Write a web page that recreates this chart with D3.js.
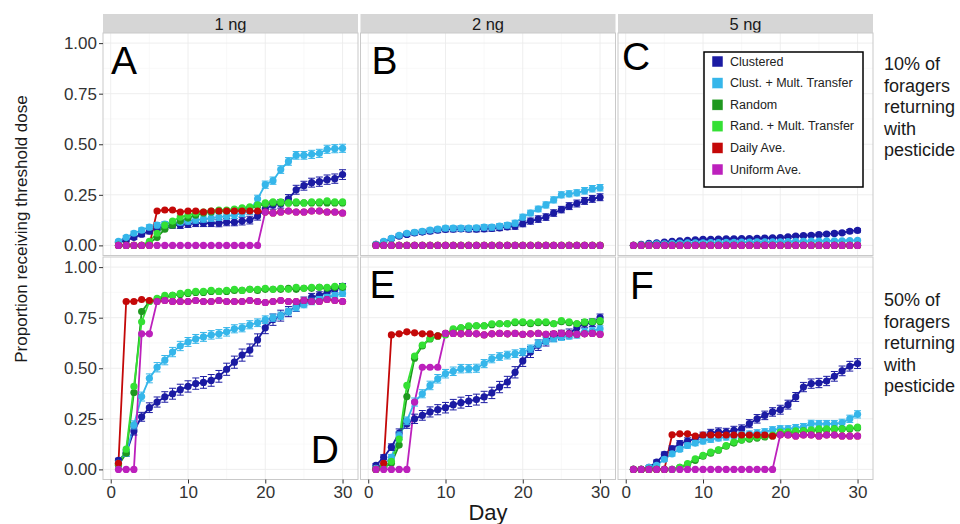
<!DOCTYPE html>
<html>
<head>
<meta charset="utf-8">
<script src="https://cdn.jsdelivr.net/npm/d3@7"></script>
<style>
  html, body { margin: 0; padding: 0; background: #ffffff; }
  svg { display: block; font-family: "Liberation Sans", Arial, sans-serif; }
</style>
</head>
<body>
<svg id="chart" width="960" height="524"></svg>
<script>
// ---- data -------------------------------------------------------------
const days = [1,2,3,4,5,6,7,8,9,10,11,12,13,14,15,16,17,18,19,20,21,22,23,24,25,26,27,28,29,30];
const doses = ["1 ng", "2 ng", "5 ng"];
const rowLabels = [
  ["10% of", "foragers", "returning", "with", "pesticide"],
  ["50% of", "foragers", "returning", "with", "pesticide"]
];
const panelLetters = ["A", "B", "C", "D", "E", "F"];
const seriesNames = ["Clustered", "Clust. + Mult. Transfer", "Random", "Rand. + Mult. Transfer", "Daily Ave.", "Uniform Ave."];
const seriesColors = ["#1b1ba3", "#36b6ea", "#1f981f", "#34e034", "#c40808", "#bc20bc"];
const yTicks = [0, 0.25, 0.5, 0.75, 1];
const xTicks = [0, 10, 20, 30];

// Panel A: 1 ng, 10% of foragers
const aClustered = [0.015,0.025,0.04,0.055,0.07,0.085,0.095,0.10,0.10,0.105,0.11,0.11,0.11,0.11,0.115,0.115,0.12,0.125,0.145,0.18,0.20,0.205,0.23,0.275,0.295,0.31,0.315,0.325,0.33,0.35];
const aClustMult = [0.02,0.04,0.06,0.075,0.09,0.10,0.105,0.11,0.115,0.12,0.125,0.13,0.135,0.14,0.145,0.15,0.16,0.17,0.23,0.30,0.32,0.375,0.415,0.445,0.445,0.45,0.455,0.475,0.478,0.48];
const aRandom = [0,0,0,0,0.01,0.04,0.08,0.10,0.12,0.135,0.15,0.16,0.165,0.17,0.17,0.175,0.18,0.185,0.195,0.205,0.21,0.21,0.21,0.21,0.21,0.21,0.21,0.21,0.21,0.21];
const aRandMult = [0,0,0,0,0.02,0.06,0.10,0.12,0.14,0.15,0.16,0.165,0.17,0.175,0.175,0.18,0.185,0.19,0.20,0.21,0.215,0.215,0.21,0.215,0.21,0.215,0.215,0.22,0.215,0.215];
const aDaily = [0,0,0,0,0,0.17,0.175,0.175,0.165,0.17,0.17,0.165,0.17,0.17,0.17,0.17,0.17,0.17,0.17,0.165,0.16,0.165,0.17,0.165,0.165,0.17,0.17,0.165,0.165,0.16];
const aUniform = [0,0,0,0,0,0,0,0,0,0,0,0,0,0,0,0,0,0,0,0.165,0.16,0.165,0.17,0.165,0.165,0.17,0.17,0.165,0.165,0.16];
const aClusteredErr = [0.005,0.008,0.01,0.012,0.013,0.014,0.015,0.015,0.016,0.016,0.017,0.017,0.017,0.018,0.018,0.018,0.019,0.019,0.02,0.02,0.021,0.021,0.021,0.022,0.022,0.022,0.023,0.023,0.023,0.024];
const aClustMultErr = [0.006,0.008,0.01,0.011,0.012,0.013,0.013,0.014,0.014,0.015,0.015,0.015,0.016,0.016,0.016,0.017,0.017,0.017,0.018,0.018,0.018,0.019,0.019,0.019,0.019,0.02,0.02,0.02,0.02,0.02];

// Panel B: 2 ng, 10% of foragers
const bClustered = [0.005,0.018,0.033,0.046,0.054,0.062,0.066,0.07,0.075,0.079,0.08,0.082,0.08,0.08,0.082,0.084,0.087,0.092,0.095,0.107,0.12,0.13,0.14,0.16,0.177,0.194,0.207,0.22,0.23,0.238];
const bClustMult = [0.005,0.02,0.035,0.05,0.06,0.065,0.07,0.075,0.08,0.085,0.085,0.085,0.085,0.087,0.09,0.09,0.095,0.10,0.11,0.14,0.16,0.18,0.20,0.225,0.25,0.255,0.26,0.27,0.28,0.285];
const bRandom = [0,0,0,0,0,0,0,0,0,0,0,0,0,0,0,0,0,0,0,0,0,0,0,0,0,0,0,0,0,0];
const bRandMult = [0,0,0,0,0,0,0,0,0,0,0,0,0,0,0,0,0,0,0,0,0,0,0,0,0,0,0,0,0,0];
const bDaily = [0,0,0,0,0,0,0,0,0,0,0,0,0,0,0,0,0,0,0,0,0,0,0,0,0,0,0,0,0,0];
const bUniform = [0,0,0,0,0,0,0,0,0,0,0,0,0,0,0,0,0,0,0,0,0,0,0,0,0,0,0,0,0,0];
const bClusteredErr = [0.004,0.006,0.008,0.009,0.01,0.011,0.011,0.012,0.012,0.012,0.013,0.013,0.013,0.013,0.014,0.014,0.014,0.014,0.015,0.015,0.015,0.016,0.016,0.016,0.016,0.017,0.017,0.017,0.017,0.017];
const bClustMultErr = [0.004,0.006,0.007,0.008,0.009,0.01,0.01,0.011,0.011,0.011,0.012,0.012,0.012,0.012,0.013,0.013,0.013,0.013,0.014,0.014,0.014,0.014,0.015,0.015,0.015,0.015,0.015,0.016,0.016,0.016];

// Panel C: 5 ng, 10% of foragers
const cClustered = [0,0.005,0.01,0.013,0.016,0.02,0.022,0.025,0.027,0.03,0.03,0.031,0.032,0.032,0.033,0.034,0.035,0.036,0.037,0.038,0.042,0.046,0.048,0.05,0.053,0.056,0.059,0.062,0.07,0.074];
const cClustMult = [0,0.003,0.005,0.007,0.008,0.01,0.011,0.012,0.012,0.013,0.014,0.014,0.015,0.015,0.016,0.016,0.017,0.017,0.018,0.018,0.019,0.02,0.02,0.021,0.021,0.022,0.022,0.023,0.024,0.025];
const cRandom = [0,0,0,0,0,0,0,0,0,0,0,0,0,0,0,0,0,0,0,0,0,0,0,0,0,0,0,0,0,0];
const cRandMult = [0,0,0,0,0,0,0,0,0,0,0,0,0,0,0,0,0,0,0,0,0,0,0,0,0,0,0,0,0,0];
const cDaily = [0,0,0,0,0,0,0,0,0,0,0,0,0,0,0,0,0,0,0,0,0,0,0,0,0,0,0,0,0,0];
const cUniform = [0,0,0,0,0,0,0,0,0,0,0,0,0,0,0,0,0,0,0,0,0,0,0,0,0,0,0,0,0,0];
const cClusteredErr = [0.002,0.003,0.003,0.004,0.004,0.004,0.005,0.005,0.005,0.005,0.005,0.006,0.006,0.006,0.006,0.006,0.006,0.006,0.007,0.007,0.007,0.007,0.007,0.007,0.008,0.008,0.008,0.008,0.008,0.008];
const cClustMultErr = [0.001,0.002,0.002,0.002,0.003,0.003,0.003,0.003,0.003,0.003,0.004,0.004,0.004,0.004,0.004,0.004,0.004,0.004,0.004,0.005,0.005,0.005,0.005,0.005,0.005,0.005,0.005,0.005,0.005,0.005];

// Panel D: 1 ng, 50% of foragers
const dClustered = [0.045,0.08,0.19,0.26,0.305,0.333,0.358,0.374,0.394,0.41,0.424,0.43,0.44,0.46,0.495,0.53,0.565,0.59,0.64,0.70,0.74,0.76,0.78,0.805,0.83,0.85,0.86,0.875,0.89,0.905];
const dClustMult = [0.03,0.08,0.22,0.36,0.45,0.505,0.54,0.58,0.61,0.63,0.645,0.655,0.665,0.67,0.68,0.695,0.70,0.715,0.725,0.74,0.75,0.76,0.78,0.80,0.815,0.83,0.84,0.85,0.86,0.87];
const dRandom = [0.02,0.08,0.38,0.78,0.83,0.84,0.85,0.86,0.865,0.87,0.875,0.875,0.88,0.88,0.88,0.885,0.885,0.89,0.885,0.89,0.89,0.89,0.895,0.89,0.895,0.895,0.9,0.895,0.9,0.9];
const dRandMult = [0.025,0.10,0.41,0.73,0.83,0.845,0.86,0.86,0.87,0.875,0.88,0.88,0.885,0.88,0.885,0.89,0.885,0.89,0.89,0.895,0.89,0.895,0.89,0.9,0.895,0.9,0.9,0.9,0.905,0.905];
const dDaily = [0.03,0.83,0.83,0.84,0.835,0.83,0.835,0.83,0.83,0.83,0.835,0.83,0.83,0.835,0.83,0.83,0.83,0.835,0.83,0.825,0.83,0.835,0.83,0.83,0.835,0.83,0.83,0.84,0.835,0.83];
const dUniform = [0,0,0,0.67,0.67,0.83,0.835,0.83,0.83,0.83,0.835,0.83,0.83,0.835,0.83,0.83,0.83,0.835,0.83,0.825,0.83,0.835,0.83,0.83,0.835,0.83,0.83,0.84,0.835,0.83];
const dClusteredErr = [0.01,0.015,0.02,0.022,0.024,0.025,0.026,0.027,0.027,0.028,0.028,0.029,0.029,0.029,0.03,0.03,0.03,0.03,0.03,0.029,0.028,0.027,0.025,0.024,0.022,0.02,0.018,0.017,0.015,0.014];
const dClustMultErr = [0.01,0.015,0.02,0.022,0.022,0.023,0.023,0.023,0.023,0.022,0.022,0.022,0.021,0.021,0.021,0.02,0.02,0.02,0.019,0.019,0.018,0.018,0.017,0.017,0.016,0.016,0.015,0.015,0.014,0.014];

// Panel E: 2 ng, 50% of foragers
const eClustered = [0.02,0.06,0.11,0.18,0.225,0.25,0.267,0.284,0.295,0.305,0.32,0.33,0.338,0.345,0.358,0.378,0.407,0.432,0.48,0.536,0.58,0.614,0.635,0.658,0.665,0.672,0.70,0.72,0.725,0.75];
const eClustMult = [0.005,0.025,0.06,0.167,0.24,0.333,0.374,0.415,0.448,0.473,0.485,0.498,0.498,0.50,0.523,0.547,0.558,0.565,0.572,0.58,0.597,0.622,0.635,0.647,0.655,0.66,0.665,0.68,0.685,0.695];
const eRandom = [0,0.01,0.03,0.12,0.36,0.55,0.61,0.645,0.66,0.67,0.69,0.70,0.705,0.71,0.71,0.715,0.72,0.72,0.725,0.725,0.72,0.725,0.725,0.72,0.73,0.725,0.72,0.725,0.73,0.73];
const eRandMult = [0,0.01,0.04,0.15,0.415,0.56,0.615,0.647,0.658,0.665,0.695,0.70,0.71,0.71,0.71,0.72,0.72,0.72,0.73,0.73,0.725,0.73,0.73,0.72,0.735,0.73,0.72,0.73,0.73,0.735];
const eDaily = [0,0.03,0.665,0.67,0.68,0.675,0.67,0.67,0.66,0.672,0.672,0.67,0.672,0.67,0.665,0.67,0.672,0.67,0.672,0.668,0.67,0.672,0.668,0.67,0.672,0.67,0.668,0.67,0.672,0.668];
const eUniform = [0,0,0,0,0,0.333,0.505,0.505,0.505,0.672,0.672,0.67,0.672,0.67,0.665,0.67,0.672,0.67,0.672,0.668,0.67,0.672,0.668,0.67,0.672,0.67,0.668,0.67,0.672,0.668];
const eClusteredErr = [0.008,0.012,0.016,0.02,0.022,0.023,0.024,0.025,0.025,0.026,0.026,0.027,0.027,0.027,0.028,0.028,0.028,0.028,0.028,0.027,0.027,0.026,0.025,0.024,0.023,0.022,0.021,0.02,0.019,0.018];
const eClustMultErr = [0.006,0.01,0.014,0.018,0.019,0.02,0.02,0.021,0.021,0.021,0.021,0.021,0.02,0.02,0.02,0.02,0.019,0.019,0.019,0.018,0.018,0.018,0.017,0.017,0.017,0.016,0.016,0.016,0.015,0.015];

// Panel F: 5 ng, 50% of foragers
const fClustered = [0,0,0.01,0.036,0.074,0.102,0.127,0.14,0.151,0.166,0.18,0.186,0.184,0.193,0.20,0.226,0.25,0.267,0.284,0.295,0.32,0.358,0.407,0.424,0.427,0.437,0.46,0.487,0.51,0.523];
const fClustMult = [0,0,0.01,0.02,0.05,0.077,0.10,0.118,0.13,0.14,0.148,0.155,0.16,0.165,0.171,0.175,0.18,0.185,0.195,0.2,0.2,0.205,0.21,0.226,0.225,0.225,0.225,0.23,0.25,0.272];
const fRandom = [0,0,0,0,0,0,0.01,0.025,0.045,0.065,0.08,0.095,0.115,0.13,0.145,0.15,0.155,0.16,0.165,0.175,0.18,0.185,0.19,0.19,0.195,0.195,0.2,0.2,0.2,0.205];
const fRandMult = [0,0,0,0,0,0,0.01,0.028,0.052,0.069,0.085,0.097,0.118,0.135,0.146,0.155,0.16,0.165,0.17,0.184,0.185,0.19,0.19,0.195,0.2,0.2,0.2,0.2,0.205,0.209];
const fDaily = [0,0,0,0,0,0.171,0.176,0.176,0.165,0.17,0.17,0.17,0.17,0.17,0.17,0.17,0.17,0.17,0.165,0.171,0.17,0.165,0.17,0.17,0.165,0.17,0.17,0.165,0.165,0.165];
const fUniform = [0,0,0,0,0,0,0,0,0,0,0,0,0,0,0,0,0,0,0,0.171,0.17,0.165,0.17,0.17,0.165,0.17,0.17,0.165,0.165,0.165];
const fClusteredErr = [0.002,0.004,0.006,0.01,0.012,0.014,0.015,0.016,0.017,0.018,0.018,0.019,0.019,0.02,0.02,0.02,0.021,0.021,0.021,0.022,0.022,0.022,0.023,0.023,0.023,0.023,0.024,0.024,0.024,0.024];
const fClustMultErr = [0.002,0.003,0.005,0.008,0.01,0.011,0.012,0.013,0.013,0.014,0.014,0.014,0.015,0.015,0.015,0.015,0.016,0.016,0.016,0.016,0.016,0.017,0.017,0.017,0.017,0.017,0.017,0.018,0.018,0.018];

// One record per facet, in reading order (row by row)
const panels = [
  { letter: "A", col: 0, row: 0, series: [aClustered, aClustMult, aRandom, aRandMult, aDaily, aUniform], err: [aClusteredErr, aClustMultErr] },
  { letter: "B", col: 1, row: 0, series: [bClustered, bClustMult, bRandom, bRandMult, bDaily, bUniform], err: [bClusteredErr, bClustMultErr] },
  { letter: "C", col: 2, row: 0, series: [cClustered, cClustMult, cRandom, cRandMult, cDaily, cUniform], err: [cClusteredErr, cClustMultErr] },
  { letter: "D", col: 0, row: 1, series: [dClustered, dClustMult, dRandom, dRandMult, dDaily, dUniform], err: [dClusteredErr, dClustMultErr] },
  { letter: "E", col: 1, row: 1, series: [eClustered, eClustMult, eRandom, eRandMult, eDaily, eUniform], err: [eClusteredErr, eClustMultErr] },
  { letter: "F", col: 2, row: 1, series: [fClustered, fClustMult, fRandom, fRandMult, fDaily, fUniform], err: [fClusteredErr, fClustMultErr] }
];

// ---- layout -----------------------------------------------------------
const svg = d3.select("#chart");
const panelLeft = 103, panelW = 255, colGap = 2.5;
const stripTop = 14, stripH = 19;
const rowTops = [33, 257], panelH = 222.5;
const textDark = "#1a1a1a", tickText = "#333333";

function panelScales(p) {
  const x0 = panelLeft + p.col * (panelW + colGap);
  const y0 = rowTops[p.row];
  const x = d3.scaleLinear().domain([-1, 32]).range([x0, x0 + panelW]);
  const y = d3.scaleLinear().domain([-0.05, 1.05]).range([y0 + panelH, y0]);
  return { x, y, x0, y0 };
}

// strips over the top row
doses.forEach((dose, c) => {
  const x0 = panelLeft + c * (panelW + colGap);
  svg.append("rect").attr("x", x0).attr("y", stripTop).attr("width", panelW).attr("height", stripH)
    .attr("fill", "#d6d6d6");
  svg.append("text").attr("x", x0 + panelW / 2).attr("y", stripTop + stripH / 2 + 6)
    .attr("text-anchor", "middle").attr("font-size", 16.5).attr("fill", textDark).text(dose);
});

panels.forEach(p => {
  const { x, y, x0, y0 } = panelScales(p);
  const g = svg.append("g");

  g.append("rect").attr("x", x0).attr("y", y0).attr("width", panelW).attr("height", panelH).attr("fill", "#ffffff");

  // grid
  const minorX = [5, 15, 25], minorY = [0.125, 0.375, 0.625, 0.875];
  g.selectAll(".gmx").data(minorX).join("line")
    .attr("x1", d => x(d)).attr("x2", d => x(d)).attr("y1", y0).attr("y2", y0 + panelH)
    .attr("stroke", "#f5f5f5").attr("stroke-width", 0.6);
  g.selectAll(".gmy").data(minorY).join("line")
    .attr("y1", d => y(d)).attr("y2", d => y(d)).attr("x1", x0).attr("x2", x0 + panelW)
    .attr("stroke", "#f5f5f5").attr("stroke-width", 0.6);
  g.selectAll(".gx").data(xTicks).join("line")
    .attr("x1", d => x(d)).attr("x2", d => x(d)).attr("y1", y0).attr("y2", y0 + panelH)
    .attr("stroke", "#ececec").attr("stroke-width", 0.9);
  g.selectAll(".gy").data(yTicks).join("line")
    .attr("y1", d => y(d)).attr("y2", d => y(d)).attr("x1", x0).attr("x2", x0 + panelW)
    .attr("stroke", "#ececec").attr("stroke-width", 0.9);

  const line = d3.line().x((d, i) => x(days[i])).y(d => y(d));

  // lines
  p.series.forEach((vals, s) => {
    g.append("path").datum(vals).attr("d", line).attr("fill", "none")
      .attr("stroke", seriesColors[s]).attr("stroke-width", 1.8).attr("stroke-linejoin", "round");
  });

  // points and error bars, series by series
  p.series.forEach((vals, s) => {
    g.selectAll(null).data(vals).join("circle")
      .attr("cx", (d, i) => x(days[i])).attr("cy", d => y(d)).attr("r", 3.6)
      .attr("fill", seriesColors[s]);
    if (s < p.err.length) {
      const e = p.err[s];
      const eb = g.append("g").attr("stroke", seriesColors[s]).attr("stroke-width", 1).attr("fill", "none");
      vals.forEach((v, i) => {
        const xl = x(days[i] - 0.45), xr = x(days[i] + 0.45), xc = x(days[i]);
        const yt = y(v + e[i]), yb = y(v - e[i]);
        eb.append("line").attr("x1", xc).attr("x2", xc).attr("y1", yt).attr("y2", yb);
        eb.append("line").attr("x1", xl).attr("x2", xr).attr("y1", yt).attr("y2", yt);
        eb.append("line").attr("x1", xl).attr("x2", xr).attr("y1", yb).attr("y2", yb);
      });
    }
  });

  // border
  g.append("rect").attr("x", x0).attr("y", y0).attr("width", panelW).attr("height", panelH)
    .attr("fill", "none").attr("stroke", "#c9c9c9").attr("stroke-width", 1);

  // panel letter
  const letterPos = {
    A: [x0 + 8, y0 + 41, "start"], B: [x0 + 11, y0 + 41, "start"], C: [x0 + 4, y0 + 37, "start"],
    D: [x0 + panelW - 19, y0 + 206, "end"], E: [x0 + 9, y0 + 41, "start"], F: [x0 + 12, y0 + 42, "start"]
  }[p.letter];
  g.append("text").attr("x", letterPos[0]).attr("y", letterPos[1]).attr("text-anchor", letterPos[2])
    .attr("font-size", 39).attr("fill", "#000").text(p.letter);

  // axes
  if (p.col === 0) {
    const ax = g.append("g").attr("transform", `translate(${x0},0)`)
      .call(d3.axisLeft(y).tickValues(yTicks).tickFormat(d3.format(".2f")).tickSize(4).tickPadding(2));
    ax.select(".domain").remove();
    ax.selectAll(".tick line").attr("stroke", tickText);
    ax.selectAll(".tick text").attr("font-size", 17).attr("fill", tickText).attr("font-family", "Liberation Sans, Arial, sans-serif");
  }
  if (p.row === 1) {
    const ax = g.append("g").attr("transform", `translate(0,${y0 + panelH})`)
      .call(d3.axisBottom(x).tickValues(xTicks).tickFormat(d3.format("d")).tickSize(4).tickPadding(2));
    ax.select(".domain").remove();
    ax.selectAll(".tick line").attr("stroke", tickText);
    ax.selectAll(".tick text").attr("font-size", 17).attr("fill", tickText).attr("font-family", "Liberation Sans, Arial, sans-serif");
  }
});

// right-hand row labels
rowLabels.forEach((lines, r) => {
  const top = [64, 300][r];
  lines.forEach((t, i) => {
    svg.append("text").attr("x", 884).attr("y", top + i * 21.5 + 6)
      .attr("font-size", 18).attr("fill", textDark).text(t);
  });
});

// axis titles
svg.append("text").attr("transform", "translate(27,229) rotate(-90)").attr("text-anchor", "middle")
  .attr("font-size", 17).attr("fill", textDark).text("Proportion receiving threshold dose");
svg.append("text").attr("x", 488).attr("y", 520).attr("text-anchor", "middle")
  .attr("font-size", 22).attr("fill", textDark).text("Day");

// legend inside panel C
const lg = svg.append("g").attr("transform", "translate(704,52)");
lg.append("rect").attr("width", 159).attr("height", 135).attr("fill", "#ffffff")
  .attr("stroke", "#000").attr("stroke-width", 1.5);
seriesNames.forEach((name, i) => {
  const cy = 9 + i * 21.6;
  lg.append("rect").attr("x", 8).attr("y", cy - 5).attr("width", 11).attr("height", 11)
    .attr("fill", seriesColors[i]).attr("stroke", "#ffffff").attr("stroke-width", 0.5);
  lg.append("text").attr("x", 26).attr("y", cy + 4.5).attr("font-size", 12.5)
    .attr("fill", "#222").text(name);
});
</script>
</body>
</html>
